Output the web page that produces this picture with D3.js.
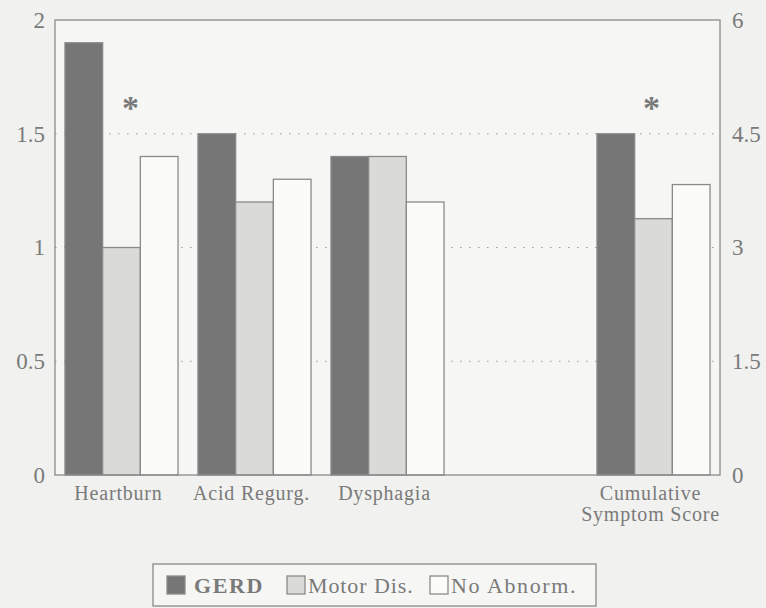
<!DOCTYPE html>
<html>
<head>
<meta charset="utf-8">
<script src="https://cdn.jsdelivr.net/npm/d3@7"></script>
<style>
  body { margin: 0; background: #f1f1ef; }
  svg { display: block; }
  text { font-family: "Liberation Serif", "DejaVu Serif", serif; }
</style>
</head>
<body>
<svg id="chart" width="766" height="608"></svg>
<script>
// Chart data
const categories = ['Heartburn', 'Acid Regurg.', 'Dysphagia', '', 'Cumulative Symptom Score'];
const series = ['GERD', 'Motor Dis.', 'No Abnorm.'];
// symptom scores (left axis, 0-2)
const gerd = [1.9, 1.5, 1.4, null, null];
const motorDis = [1.0, 1.2, 1.4, null, null];
const noAbnorm = [1.4, 1.3, 1.2, null, null];
// cumulative score (right axis, 0-6)
const cumulative = [4.5, 3.38, 3.83];
const leftTicks = [0, 0.5, 1, 1.5, 2];
const rightTicks = [0, 1.5, 3, 4.5, 6];
const starred = ['Heartburn', 'Cumulative Symptom Score'];

const colors = { 'GERD': '#767676', 'Motor Dis.': '#dadad8', 'No Abnorm.': '#fbfbfa' };
const ink = '#8a8a8a';
const textInk = '#7a7a7a';
const serif = '"Liberation Serif", "DejaVu Serif", serif';

const svg = d3.select('#chart');
const margin = { left: 55, right: 46, top: 20, bottom: 133 };
const width = 766 - margin.left - margin.right;
const height = 608 - margin.top - margin.bottom;

const g = svg.append('g')
  .attr('transform', 'translate(' + margin.left + ',' + margin.top + ')');

// Scales
const x = d3.scaleBand()
  .domain(categories)
  .range([0, width])
  .paddingInner(0.15)
  .paddingOuter(0.075);
const xSub = d3.scaleBand()
  .domain(series)
  .range([0, x.bandwidth()]);
const yLeft = d3.scaleLinear().domain([0, 2]).range([height, 0]);
const yRight = d3.scaleLinear().domain([0, 6]).range([height, 0]);

// Plot background
g.append('rect')
  .attr('width', width)
  .attr('height', height)
  .attr('fill', '#f6f6f4');

// Dotted gridlines
g.selectAll('.grid')
  .data(leftTicks.filter((d) => d > 0 && d < 2))
  .enter().append('line')
  .attr('class', 'grid')
  .attr('x1', 0)
  .attr('x2', width)
  .attr('y1', (d) => yLeft(d))
  .attr('y2', (d) => yLeft(d))
  .attr('stroke', '#9a9a9a')
  .attr('stroke-width', 1)
  .attr('stroke-dasharray', '1.5,7.5');

// Build rows for bars
const rows = [];
categories.forEach((c, i) => {
  if (c === '') return;
  if (c === 'Cumulative Symptom Score') {
    series.forEach((s, j) => rows.push({ cat: c, key: s, value: cumulative[j], scale: yRight }));
  } else {
    rows.push({ cat: c, key: 'GERD', value: gerd[i], scale: yLeft });
    rows.push({ cat: c, key: 'Motor Dis.', value: motorDis[i], scale: yLeft });
    rows.push({ cat: c, key: 'No Abnorm.', value: noAbnorm[i], scale: yLeft });
  }
});

g.selectAll('.bar')
  .data(rows)
  .enter().append('rect')
  .attr('class', 'bar')
  .attr('x', (d) => x(d.cat) + xSub(d.key))
  .attr('width', xSub.bandwidth())
  .attr('y', (d) => d.scale(d.value))
  .attr('height', (d) => height - d.scale(d.value))
  .attr('fill', (d) => colors[d.key])
  .attr('stroke', ink)
  .attr('stroke-width', 1.3);

// Asterisks over significant groups (small nudge as in the original)
const starNudge = [9, -2];
g.selectAll('.star')
  .data(starred)
  .enter().append('text')
  .attr('class', 'star')
  .attr('x', (d, i) => x(d) + xSub('Motor Dis.') + xSub.bandwidth() / 2 + starNudge[i])
  .attr('y', 119 - margin.top)
  .attr('text-anchor', 'middle')
  .attr('font-family', serif)
  .attr('font-weight', 'bold')
  .attr('font-size', 34)
  .attr('fill', textInk)
  .text('*');

// Frame
g.append('rect')
  .attr('width', width)
  .attr('height', height)
  .attr('fill', 'none')
  .attr('stroke', ink)
  .attr('stroke-width', 1.3);

// Axes
const leftAxis = g.append('g')
  .call(d3.axisLeft(yLeft).tickValues(leftTicks).tickSize(0).tickPadding(10)
    .tickFormat((d) => String(d)));
const rightAxis = g.append('g')
  .attr('transform', 'translate(' + width + ',0)')
  .call(d3.axisRight(yRight).tickValues(rightTicks).tickSize(0).tickPadding(12)
    .tickFormat((d) => String(d)));
[leftAxis, rightAxis].forEach((a) => {
  a.attr('font-family', serif);
  a.select('.domain').remove();
  a.selectAll('text')
    .attr('font-family', serif)
    .attr('font-size', 23)
    .attr('fill', textInk);
});

// Category labels
const labels = g.selectAll('.cat')
  .data(categories.filter((c) => c !== ''))
  .enter().append('text')
  .attr('class', 'cat')
  .attr('y', height + 25)
  .attr('text-anchor', 'middle')
  .attr('font-family', serif)
  .attr('font-size', 20)
  .attr('letter-spacing', 0.8)
  .attr('fill', textInk);
labels.each(function(d) {
  const t = d3.select(this);
  const lines = d === 'Cumulative Symptom Score' ? ['Cumulative', 'Symptom Score'] : [d];
  lines.forEach((l, i) => {
    t.append('tspan')
      .attr('x', x(d) + x.bandwidth() / 2 - 3)
      .attr('dy', i === 0 ? 0 : 21)
      .text(l);
  });
});

// Legend
const legend = svg.append('g').attr('transform', 'translate(153,564)');
legend.append('rect')
  .attr('width', 443)
  .attr('height', 42)
  .attr('fill', '#f6f6f4')
  .attr('stroke', ink)
  .attr('stroke-width', 1.3);
const legendX = [14, 134, 277];
const legendSpacing = [1.6, 0.9, 1.6];
series.forEach((s, i) => {
  const item = legend.append('g').attr('transform', 'translate(' + legendX[i] + ',12)');
  item.append('rect')
    .attr('width', 18)
    .attr('height', 18)
    .attr('fill', colors[s])
    .attr('stroke', ink)
    .attr('stroke-width', 1.3);
  item.append('text')
    .attr('x', s === 'GERD' ? 27 : 21)
    .attr('y', 17)
    .attr('font-family', serif)
    .attr('font-size', 22)
    .attr('letter-spacing', legendSpacing[i])
    .attr('font-weight', s === 'GERD' ? 'bold' : 'normal')
    .attr('fill', textInk)
    .text(s);
});
</script>
</body>
</html>
